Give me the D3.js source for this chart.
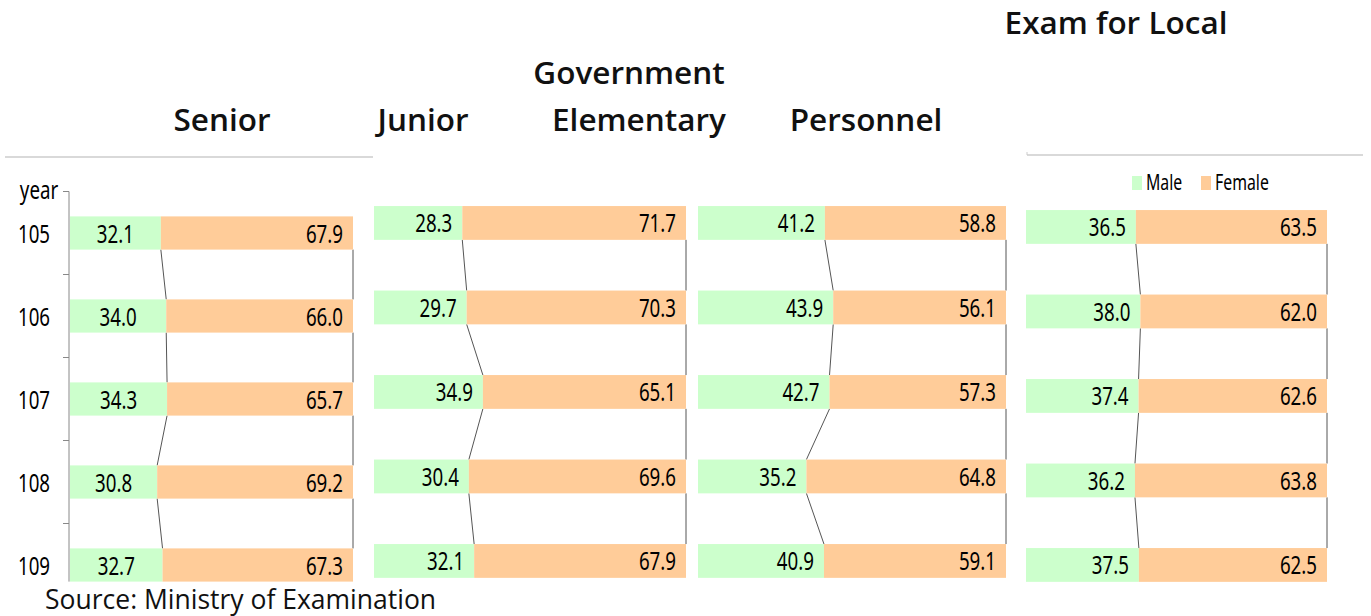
<!DOCTYPE html>
<html>
<head>
<meta charset="utf-8">
<script src="https://cdn.jsdelivr.net/npm/d3@7"></script>
<style>
  body { margin: 0; background: #fff; }
  .title { font-family: "Open Sans", sans-serif; font-weight: 600; font-size: 31.5px; fill: #111; }
  .num { font-family: "Noto Sans", sans-serif; font-size: 26px; fill: #000; }
  .lgd { font-family: "Noto Sans", sans-serif; font-size: 22px; fill: #000; }
</style>
</head>
<body>
<svg id="chart" width="1371" height="616"></svg>
<script>
var years = ["105", "106", "107", "108", "109"];
var series = ["Male", "Female"];
var seniorMale = [32.1, 34.0, 34.3, 30.8, 32.7];
var seniorFemale = [67.9, 66.0, 65.7, 69.2, 67.3];
var juniorMale = [28.3, 29.7, 34.9, 30.4, 32.1];
var juniorFemale = [71.7, 70.3, 65.1, 69.6, 67.9];
var elemMale = [41.2, 43.9, 42.7, 35.2, 40.9];
var elemFemale = [58.8, 56.1, 57.3, 64.8, 59.1];
var localMale = [36.5, 38.0, 37.4, 36.2, 37.5];
var localFemale = [63.5, 62.0, 62.6, 63.8, 62.5];

var colors = {Male: "#ccffcc", Female: "#ffcc99"};
var squeeze = 0.72;

var svg = d3.select("#chart");

// narrow text (the original uses a condensed face)
function narrow(parent, cls, x, y, anchor, txt) {
  return parent.append("text").attr("class", cls)
    .attr("transform", "translate(" + x + "," + y + ") scale(" + squeeze + ",1)")
    .attr("text-anchor", anchor).text(txt);
}

// panel layout
var panels = [
  {male: seniorMale, female: seniorFemale, x0: 70, x1: 353, y0: 191.5, step: 83, axis: true, center: true},
  {male: juniorMale, female: juniorFemale, x0: 374, x1: 686, y0: 180.7, step: 84.5},
  {male: elemMale, female: elemFemale, x0: 698, x1: 1006, y0: 180.7, step: 84.5},
  {male: localMale, female: localFemale, x0: 1026, x1: 1327, y0: 184.7, step: 84.5}
];

panels.forEach(function(p) {
  var x = d3.scaleLinear().domain([0, 100]).range([p.x0, p.x1]);
  var y = d3.scaleBand().domain(years).range([p.y0, p.y0 + 5 * p.step])
      .paddingInner(0.6).paddingOuter(0.3);
  var rows = years.map(function(yr, i) { return {year: yr, m: p.male[i], f: p.female[i]}; });
  var g = svg.append("g");

  // connector lines
  for (var i = 0; i < rows.length - 1; i++) {
    var yb = y(rows[i].year) + y.bandwidth(), yt = y(rows[i + 1].year);
    g.append("line")
      .attr("x1", x(rows[i].m)).attr("y1", yb)
      .attr("x2", x(rows[i + 1].m)).attr("y2", yt)
      .attr("stroke", "#555").attr("stroke-width", 1);
    g.append("line")
      .attr("x1", x(100)).attr("y1", yb)
      .attr("x2", x(100)).attr("y2", yt)
      .attr("stroke", "#555").attr("stroke-width", 1);
  }

  g.selectAll(".m").data(rows).enter().append("rect")
    .attr("x", x(0)).attr("y", function(d) { return y(d.year); })
    .attr("width", function(d) { return x(d.m) - x(0); })
    .attr("height", y.bandwidth()).attr("fill", colors.Male);
  g.selectAll(".f").data(rows).enter().append("rect")
    .attr("x", function(d) { return x(d.m); }).attr("y", function(d) { return y(d.year); })
    .attr("width", function(d) { return x(100) - x(d.m); })
    .attr("height", y.bandwidth()).attr("fill", colors.Female);

  rows.forEach(function(d) {
    var ty = y(d.year) + y.bandwidth() / 2 + 9.5;
    if (p.center) narrow(g, "num", (x(0) + x(d.m)) / 2, ty, "middle", d.m.toFixed(1));
    else narrow(g, "num", x(d.m) - 10, ty, "end", d.m.toFixed(1));
    narrow(g, "num", x(100) - 10, ty, "end", d.f.toFixed(1));
  });

  if (p.axis) {
    var ax = g.append("g").attr("transform", "translate(" + (p.x0 - 1) + ",0)");
    ax.append("line").attr("x1", 0).attr("x2", 0).attr("y1", p.y0).attr("y2", y(years[4]) + y.bandwidth())
      .attr("stroke", "#888");
    years.forEach(function(yr) {
      var ty = y(yr) - y.step() * 0.3;
      ax.append("line").attr("x1", -6).attr("x2", 0).attr("y1", ty).attr("y2", ty).attr("stroke", "#888");
      narrow(ax, "num", -35, y(yr) + y.bandwidth() / 2 + 9.5, "middle", yr);
    });
    narrow(ax, "num", -30, p.y0 + 7, "middle", "year");
  }
});

// titles
var titles = [
  {t: "Senior", x: 222, y: 131},
  {t: "Junior", x: 423, y: 131},
  {t: "Government", x: 629, y: 84},
  {t: "Elementary", x: 639, y: 131},
  {t: "Personnel", x: 866, y: 131},
  {t: "Exam for Local", x: 1116, y: 34}
];
svg.selectAll(".title").data(titles).enter().append("text")
  .attr("class", "title").attr("text-anchor", "middle")
  .attr("x", function(d) { return d.x; }).attr("y", function(d) { return d.y; })
  .text(function(d) { return d.t; });

// separator lines
svg.append("line").attr("x1", 5).attr("x2", 373).attr("y1", 157).attr("y2", 157)
  .attr("stroke", "#ccc").attr("stroke-width", 1.5);
svg.append("line").attr("x1", 1027).attr("x2", 1363).attr("y1", 155).attr("y2", 155)
  .attr("stroke", "#ccc").attr("stroke-width", 1.5);
svg.append("line").attr("x1", 1027).attr("x2", 1027).attr("y1", 152).attr("y2", 155)
  .attr("stroke", "#ccc").attr("stroke-width", 1);

// legend
var lg = svg.append("g").attr("transform", "translate(1132,0)");
var lx = [0, 69];
series.forEach(function(s, i) {
  lg.append("rect").attr("x", lx[i]).attr("y", 176).attr("width", 10).attr("height", 14).attr("fill", colors[s]);
  narrow(lg, "lgd", lx[i] + 14, 190, "start", s);
});

svg.append("text").attr("x", 45).attr("y", 609)
  .style("font-family", "'Open Sans', sans-serif").style("font-size", "26.5px").attr("fill", "#111")
  .text("Source: Ministry of Examination");
</script>
</body>
</html>
